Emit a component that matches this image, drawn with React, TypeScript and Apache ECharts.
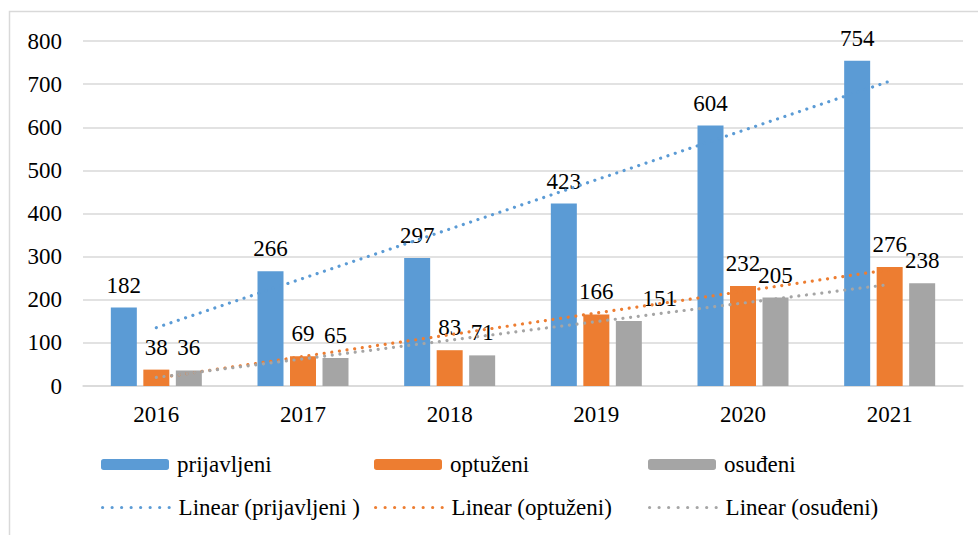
import React, { useEffect, useRef } from "react";
import * as echarts from "echarts";

const categories = ["2016", "2017", "2018", "2019", "2020", "2021"];
const prijavljeni = [182, 266, 297, 423, 604, 754];
const optuzeni = [38, 69, 83, 166, 232, 276];
const osudjeni = [36, 65, 71, 151, 205, 238];
const yTicks = { min: 0, max: 800, interval: 100 };

const FONT = "Liberation Serif";
const BLUE = "#5b9bd5";
const ORANGE = "#ed7d31";
const GRAY = "#a5a5a5";

function linearTrend(values: number[]): number[] {
  const n = values.length;
  const xs = values.map((_, i) => i + 1);
  const mx = xs.reduce((a, b) => a + b, 0) / n;
  const my = values.reduce((a, b) => a + b, 0) / n;
  let sxy = 0;
  let sxx = 0;
  for (let i = 0; i < n; i++) {
    sxy += (xs[i] - mx) * (values[i] - my);
    sxx += (xs[i] - mx) * (xs[i] - mx);
  }
  const slope = sxy / sxx;
  const icpt = my - slope * mx;
  return xs.map((x) => +(icpt + slope * x).toFixed(2));
}

export default function App() {
  const ref = useRef<HTMLDivElement>(null);
  useEffect(() => {
    if (!ref.current) return;
    const chart = echarts.init(ref.current, null, { renderer: "svg" });
    const labelStyle = {
      show: true,
      position: "top" as const,
      distance: 11,
      fontSize: 23,
      fontFamily: FONT,
      color: "#000",
    };
    const trendStyle = (color: string) => ({
      color,
      width: 3.2,
      type: [0.01, 7.7],
      cap: "round",
    });
    const legendCommon = {
      itemWidth: 68,
      itemHeight: 11,
      padding: 0,
      textStyle: { fontSize: 23, fontFamily: FONT, color: "#000", padding: [0, 0, 0, 3] },
    };
    const lineLegend = {
      ...legendCommon,
      itemStyle: { opacity: 0 },
      lineStyle: { type: [0.01, 9.5], width: 3.2, cap: "round" },
    };
    const row1 = 453;
    const row2 = 496;
    chart.setOption({
      animation: false,
      textStyle: { fontFamily: FONT },
      graphic: [
        {
          type: "rect",
          shape: { x: 9.5, y: 11.5, width: 1200, height: 700 },
          style: { fill: "none", stroke: "#d9d9d9", lineWidth: 1.5 },
          silent: true,
        },
      ],
      grid: { left: 83, right: 15, top: 41, bottom: 149, containLabel: false },
      legend: [
        { ...legendCommon, data: ["prijavljeni"], left: 101, top: row1 },
        { ...legendCommon, data: ["optuženi"], left: 374, top: row1 },
        { ...legendCommon, data: ["osuđeni"], left: 648, top: row1 },
        { ...lineLegend, data: ["Linear (prijavljeni )"], left: 101, top: row2 },
        { ...lineLegend, data: ["Linear (optuženi)"], left: 374, top: row2 },
        { ...lineLegend, data: ["Linear (osuđeni)"], left: 648, top: row2 },
      ],
      xAxis: {
        type: "category",
        data: categories,
        axisLine: { lineStyle: { color: "#d9d9d9", width: 1.5 } },
        axisTick: { show: false },
        axisLabel: { fontSize: 23, fontFamily: FONT, color: "#000", margin: 17 },
      },
      yAxis: {
        type: "value",
        min: yTicks.min,
        max: yTicks.max,
        interval: yTicks.interval,
        axisLine: { show: false },
        axisTick: { show: false },
        splitLine: { lineStyle: { color: "#d9d9d9", width: 1.5 } },
        axisLabel: { fontSize: 23, fontFamily: FONT, color: "#000", margin: 21 },
      },
      series: [
        {
          name: "prijavljeni",
          type: "bar",
          data: prijavljeni,
          barWidth: 26,
          barGap: "25%",
          itemStyle: { color: BLUE },
          label: labelStyle,
        },
        {
          name: "optuženi",
          type: "bar",
          data: optuzeni,
          barWidth: 26,
          barGap: "25%",
          itemStyle: { color: ORANGE },
          label: labelStyle,
        },
        {
          name: "osuđeni",
          type: "bar",
          data: osudjeni.map((v, i) =>
            i === 3 ? { value: v, label: { offset: [31, 0] } } : v
          ),
          barWidth: 26,
          barGap: "25%",
          itemStyle: { color: GRAY },
          label: labelStyle,
        },
        {
          name: "Linear (prijavljeni )",
          type: "line",
          data: linearTrend(prijavljeni),
          symbol: "none",
          itemStyle: { color: BLUE },
          lineStyle: trendStyle(BLUE),
          z: 3,
        },
        {
          name: "Linear (optuženi)",
          type: "line",
          data: linearTrend(optuzeni),
          symbol: "none",
          itemStyle: { color: ORANGE },
          lineStyle: trendStyle(ORANGE),
          z: 3,
        },
        {
          name: "Linear (osuđeni)",
          type: "line",
          data: linearTrend(osudjeni),
          symbol: "none",
          itemStyle: { color: GRAY },
          lineStyle: trendStyle(GRAY),
          z: 3,
        },
      ],
    });
    return () => chart.dispose();
  }, []);
  return (
    <div
      ref={ref}
      style={{ position: "fixed", left: 0, top: 0, width: 978, height: 535, background: "#fff" }}
    />
  );
}
